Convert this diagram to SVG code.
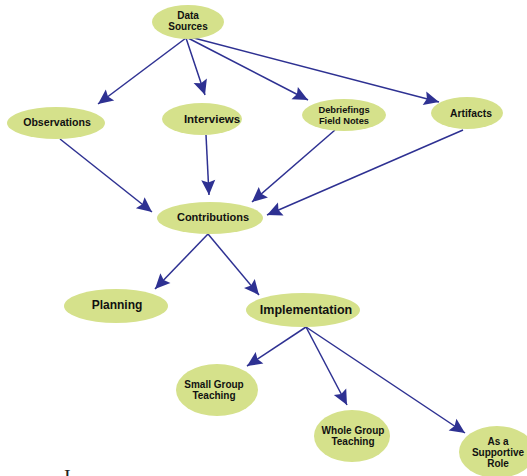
<svg xmlns="http://www.w3.org/2000/svg" width="527" height="476" viewBox="0 0 527 476">
<defs>
<marker id="ah" markerUnits="userSpaceOnUse" markerWidth="16" markerHeight="14" refX="15" refY="7" orient="auto" overflow="visible">
<path d="M0,0 L15,7 L0,14 L2.5,7 z" fill="#2e3192"/>
</marker>
<style>
.n ellipse{fill:#d5e18b;}
.n text{font-family:"Liberation Sans",Arial,sans-serif;font-weight:bold;fill:#111;text-anchor:middle;}
.e line{stroke:#2e3192;stroke-width:1.5;marker-end:url(#ah);}
</style>
</defs>
<rect width="527" height="476" fill="#fff"/>
<g id="connectors" class="e">
<line x1="186" y1="38" x2="98" y2="104"/>
<line x1="186" y1="38" x2="205" y2="95"/>
<line x1="188" y1="38" x2="308" y2="100"/>
<line x1="190" y1="37" x2="439" y2="102"/>
<line x1="60" y1="139" x2="152" y2="212"/>
<line x1="206" y1="135" x2="209" y2="195"/>
<line x1="335" y1="130" x2="252" y2="202"/>
<line x1="463" y1="130" x2="267" y2="215"/>
<line x1="208" y1="234" x2="155" y2="289"/>
<line x1="208" y1="234" x2="259" y2="295"/>
<line x1="306" y1="327" x2="247" y2="366"/>
<line x1="306" y1="327" x2="347" y2="405"/>
<line x1="306" y1="327" x2="465" y2="433"/>
</g>
<g id="data-sources" class="n"><ellipse cx="188" cy="22" rx="36" ry="17"/><text x="188" y="19" font-size="10">Data</text><text x="188" y="30" font-size="10">Sources</text></g>
<g id="observations" class="n"><ellipse cx="56" cy="123" rx="49" ry="16"/><text x="57" y="126" font-size="10.6">Observations</text></g>
<g id="interviews" class="n"><ellipse cx="202" cy="119" rx="40" ry="16"/><text x="212" y="123" font-size="11.5">Interviews</text></g>
<g id="debriefings" class="n"><ellipse cx="344" cy="115" rx="42" ry="16"/><text x="344" y="113" font-size="9.3">Debriefings</text><text x="344" y="124" font-size="9.3">Field Notes</text></g>
<g id="artifacts" class="n"><ellipse cx="467" cy="113" rx="36" ry="16"/><text x="471" y="117" font-size="10.3">Artifacts</text></g>
<g id="contributions" class="n"><ellipse cx="210" cy="218" rx="53" ry="16"/><text x="213" y="221" font-size="11">Contributions</text></g>
<g id="planning" class="n"><ellipse cx="116" cy="306" rx="52" ry="17"/><text x="117" y="309" font-size="12">Planning</text></g>
<g id="implementation" class="n"><ellipse cx="303" cy="310" rx="57" ry="17"/><text x="306" y="314" font-size="12.5">Implementation</text></g>
<g id="small-group" class="n"><ellipse cx="217" cy="390" rx="41" ry="26"/><text x="214" y="388" font-size="10">Small Group</text><text x="214" y="399" font-size="10">Teaching</text></g>
<g id="whole-group" class="n"><ellipse cx="352" cy="436" rx="38" ry="26"/><text x="353" y="434" font-size="10">Whole Group</text><text x="353" y="445" font-size="10">Teaching</text></g>
<g id="supportive" class="n"><ellipse cx="497" cy="452" rx="38" ry="26"/><text x="498" y="445" font-size="10">As a</text><text x="498" y="456" font-size="10">Supportive</text><text x="498" y="467" font-size="10">Role</text></g>
<text x="64" y="484" font-family="Liberation Serif,serif" font-size="20" fill="#222">I</text>
</svg>
